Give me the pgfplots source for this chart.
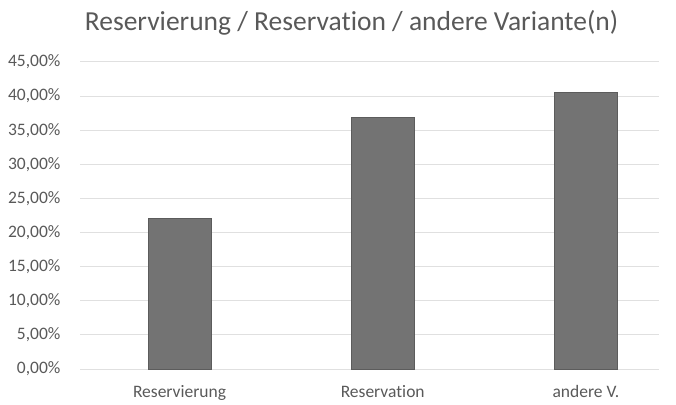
\documentclass[border=0pt]{standalone}
\usepackage{pgfplots}
\pgfplotsset{compat=1.18}
\usepackage{fontspec}
\setmainfont{Carlito}[Ligatures=NoCommon]
\definecolor{txt}{HTML}{595959}
\definecolor{barfill}{HTML}{737373}
\definecolor{baredge}{HTML}{5C5C5C}
\definecolor{grid}{HTML}{E0E0E0}
\begin{document}
\begin{tikzpicture}[x=1pt,y=1pt]
\begin{axis}[
  at={(0pt,0pt)}, anchor=south west,
  scale only axis,
  width=579pt, height=307pt,
  xmin=-0.49, xmax=2.36,
  ymin=0, ymax=45,
  ytick={0,5,...,45},
  xtick={0,1,2},
  xticklabels={Reservierung,Reservation,andere V.},
  ymajorgrids,
  grid style={draw=grid, line width=1pt},
  axis line style={draw=none},
  major tick length=0pt,
  yticklabel={\pgfmathprintnumber[fixed,fixed zerofill,precision=2,use comma]{\tick}\%},
  /pgf/number format/assume math mode=true,
  yticklabel style={font=\fontsize{17.5}{19}\selectfont, text=txt, xshift=-16pt},
  xticklabel style={font=\fontsize{17.5}{19}\selectfont, text=txt, yshift=-13pt},
  ybar, bar width=63pt,
  clip=false,
]
\addplot[fill=barfill, draw=baredge, line width=0.8pt] coordinates {(0,22.1) (1,36.9) (2,40.6)};
\end{axis}
\node[text=txt, font=\fontsize{27.5}{30}\selectfont, anchor=base] at (271.5pt,338pt) {Reservierung / Reservation / andere Variante(n)};
\pgfresetboundingbox
\path (-80pt,-35pt) rectangle (596pt,369pt);
\end{tikzpicture}
\end{document}
